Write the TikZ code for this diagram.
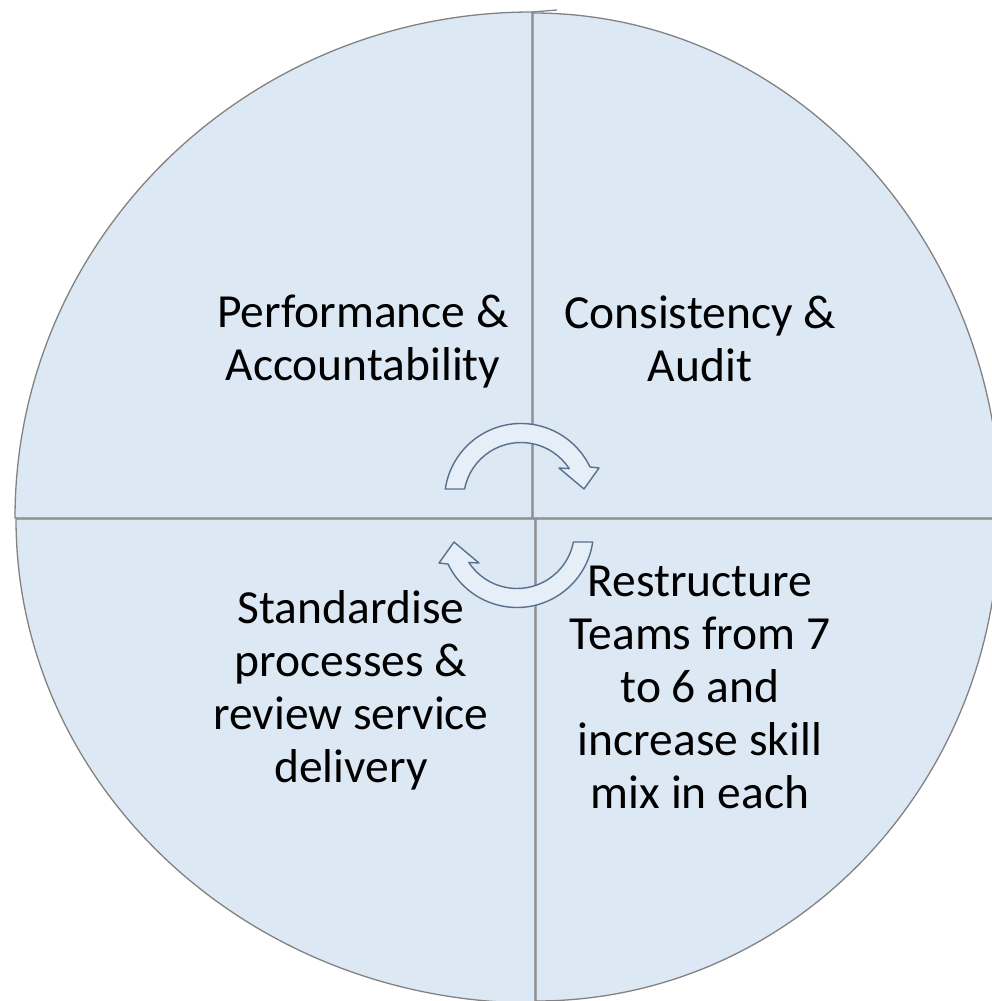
\documentclass[tikz,border=0pt]{standalone}
\usepackage{fontspec}
\setmainfont{Carlito}
\definecolor{quadfill}{HTML}{DDE8F5}
\definecolor{quadline}{HTML}{828282}
\definecolor{arrowfill}{HTML}{E6EEF8}
\definecolor{arrowline}{HTML}{58708E}
\tikzset{
  quad/.style={fill=quadfill, draw=quadline, line width=1.3pt, line join=round},
  cyclearrow/.style={fill=arrowfill, draw=arrowline, line width=1.4pt, line join=round},
  label/.style={font=\fontsize{47.5}{53}\selectfont, align=center, anchor=base, inner sep=0pt, text=black}
}
\begin{document}
\begin{tikzpicture}[x=1pt,y=1pt]
\useasboundingbox (0,0) rectangle (992,-1001);
\clip (0,0) rectangle (992,-1001);
% quadrants
\draw[quad] (532,-518) -- (15,-518) arc[start angle=180, end angle=90, x radius=517, y radius=506] -- cycle;
\draw[quad] (533,-518) -- (533,-13) arc[start angle=90, end angle=0, x radius=468, y radius=505] -- cycle;
\draw[quad] (535,-519) -- (16,-519) arc[start angle=180, end angle=270, x radius=519, y radius=484] -- cycle;
\draw[quad] (536,-519) -- (999,-519) arc[start angle=0, end angle=-90, x radius=463, y radius=482] -- cycle;
\draw[quadline, line width=1.3pt] (532,-12) -- (557,-10);
% cycle arrows
\draw[cyclearrow, shift={(521,-500)}] (171.7:76.5) arc[start angle=171.7, end angle=25.6, radius=76.5]
   -- (78,32) -- (63,11) -- (38,32) -- (33.1:57.5) arc[start angle=33.1, end angle=169, radius=57.5] -- cycle;
\draw[cyclearrow, shift={(517,-531)}, rotate=180] (171.7:76.5) arc[start angle=171.7, end angle=25.6, radius=76.5]
   -- (78,32) -- (63,11) -- (38,32) -- (33.1:57.5) arc[start angle=33.1, end angle=169, radius=57.5] -- cycle;
% labels (base anchor = baseline of the last line)
\node[label] (perf) at (363,-380) {Performance \&\\Accountability};
\node[label] (cons) at (700,-381) {Consistency \&\\Audit};
\node[label] (stan) at (351,-782) {Standardise\\processes \&\\review service\\delivery};
\node[label] (rest) at (700,-808) {Restructure\\Teams from 7\\to 6 and\\increase skill\\mix in each};
\end{tikzpicture}
\end{document}
